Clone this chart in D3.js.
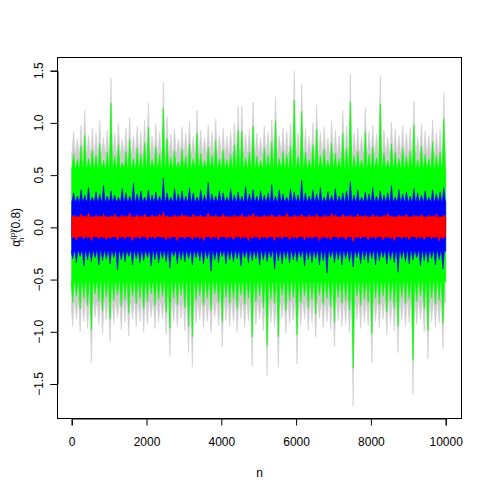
<!DOCTYPE html>
<html>
<head>
<meta charset="utf-8">
<script src="https://cdn.jsdelivr.net/npm/d3@7"></script>
<style>
  body { margin: 0; background: #fff; }
  text { font-family: "Liberation Sans", Arial, sans-serif; }
</style>
</head>
<body>
<script>
// per-bin (100 obs each) upper and lower extremes
var greyHi = [0.92,0.85,0.98,1.12,0.88,0.95,0.90,1.02,0.86,0.93,
  1.43,0.90,1.00,0.84,0.95,1.05,0.88,0.97,0.92,1.03,
  1.19,0.87,0.99,0.91,1.39,1.06,0.89,0.94,0.85,0.96,
  0.90,1.01,0.87,1.12,0.93,0.86,0.98,0.91,1.04,0.88,
  0.95,0.87,0.92,1.00,1.16,1.16,0.89,0.94,1.20,0.90,
  0.86,0.97,0.91,1.03,1.25,0.88,0.95,0.92,0.99,1.50,
  0.90,1.37,0.94,0.87,1.00,1.17,0.91,0.96,0.86,1.02,
  0.93,0.88,1.12,0.97,1.47,0.90,0.95,0.87,1.14,0.92,
  0.98,0.89,1.45,0.93,0.86,1.01,0.94,0.88,0.97,0.90,
  0.95,1.21,0.87,0.99,0.92,0.88,1.03,0.91,0.94,1.29];
var greyLo = [-0.95,-0.88,-1.00,-0.90,-0.97,-1.30,-0.86,-0.93,-1.02,-0.89,
  -1.10,-0.92,-0.87,-0.98,-0.91,-1.04,-0.88,-0.95,-0.90,-1.00,
  -0.93,-0.86,-0.97,-0.91,-0.88,-1.03,-1.23,-0.90,-0.96,-0.87,
  -0.99,-1.20,-1.34,-0.92,-0.88,-0.97,-0.90,-1.01,-0.86,-0.94,
  -1.14,-0.89,-0.95,-0.91,-1.00,-0.87,-0.96,-0.90,-1.33,-0.93,
  -0.88,-0.99,-1.42,-0.91,-0.95,-1.34,-0.87,-1.02,-0.92,-0.89,
  -1.31,-0.94,-0.88,-0.99,-0.91,-1.05,-0.87,-0.96,-0.90,-0.98,
  -1.14,-0.89,-0.95,-0.92,-1.01,-1.71,-0.88,-0.97,-0.91,-0.94,
  -1.30,-0.90,-0.96,-0.88,-1.03,-0.92,-0.99,-1.20,-0.89,-0.95,
  -0.91,-1.60,-0.93,-0.88,-1.00,-1.26,-0.90,-0.96,-0.92,-1.17];
var greenHi = [0.70,0.65,0.78,0.88,0.66,0.74,0.69,0.80,0.64,0.72,
  1.19,0.68,0.79,0.62,0.73,0.84,0.66,0.76,0.70,0.81,
  0.96,0.65,0.77,0.70,1.14,0.85,0.67,0.73,0.63,0.75,
  0.68,0.80,0.66,0.90,0.71,0.64,0.77,0.69,0.83,0.66,
  0.74,0.65,0.70,0.79,0.93,0.92,0.67,0.72,0.97,0.68,
  0.64,0.76,0.69,0.82,1.02,0.66,0.73,0.70,0.78,1.22,
  0.68,1.11,0.72,0.65,0.79,0.94,0.69,0.75,0.64,0.81,
  0.71,0.66,0.90,0.76,1.20,0.68,0.73,0.65,0.92,0.70,
  0.77,0.67,1.18,0.71,0.64,0.80,0.72,0.66,0.76,0.68,
  0.73,0.98,0.65,0.78,0.70,0.66,0.82,0.69,0.72,1.04];
var greenLo = [-0.72,-0.66,-0.78,-0.68,-0.75,-0.98,-0.64,-0.71,-0.80,-0.67,
  -0.88,-0.70,-0.65,-0.76,-0.69,-0.82,-0.66,-0.73,-0.68,-0.78,
  -0.71,-0.64,-0.75,-0.69,-0.66,-0.81,-0.97,-0.68,-0.74,-0.65,
  -0.77,-0.95,-1.05,-0.70,-0.66,-0.75,-0.68,-0.79,-0.64,-0.72,
  -0.90,-0.67,-0.73,-0.69,-0.78,-0.65,-0.74,-0.68,-1.05,-0.71,
  -0.66,-0.77,-1.13,-0.69,-0.73,-1.05,-0.65,-0.80,-0.70,-0.67,
  -1.03,-0.72,-0.66,-0.77,-0.69,-0.83,-0.65,-0.74,-0.68,-0.76,
  -0.91,-0.67,-0.73,-0.70,-0.79,-1.35,-0.66,-0.75,-0.69,-0.72,
  -1.02,-0.68,-0.74,-0.66,-0.81,-0.70,-0.77,-0.95,-0.67,-0.73,
  -0.69,-1.27,-0.71,-0.66,-0.78,-0.99,-0.68,-0.74,-0.70,-0.92];
var blueHi = [0.33,0.30,0.36,0.31,0.38,0.29,0.34,0.32,0.40,0.30,
  0.35,0.31,0.29,0.37,0.33,0.30,0.42,0.32,0.35,0.29,
  0.36,0.31,0.34,0.30,0.47,0.33,0.29,0.37,0.32,0.35,
  0.30,0.38,0.33,0.29,0.36,0.31,0.43,0.32,0.30,0.35,
  0.33,0.29,0.37,0.31,0.34,0.30,0.39,0.32,0.36,0.30,
  0.35,0.31,0.33,0.41,0.30,0.36,0.32,0.29,0.37,0.34,
  0.31,0.45,0.33,0.30,0.36,0.32,0.38,0.29,0.34,0.31,
  0.37,0.30,0.33,0.35,0.44,0.31,0.36,0.29,0.34,0.32,
  0.38,0.30,0.35,0.31,0.33,0.40,0.29,0.36,0.32,0.34,
  0.30,0.37,0.33,0.31,0.35,0.29,0.36,0.32,0.34,0.38];
var blueLo = [-0.30,-0.34,-0.28,-0.37,-0.31,-0.33,-0.29,-0.36,-0.32,-0.30,
  -0.35,-0.29,-0.41,-0.31,-0.33,-0.28,-0.36,-0.30,-0.34,-0.32,
  -0.29,-0.37,-0.31,-0.34,-0.30,-0.33,-0.39,-0.28,-0.35,-0.31,
  -0.33,-0.30,-0.36,-0.29,-0.32,-0.35,-0.30,-0.42,-0.31,-0.34,
  -0.28,-0.35,-0.31,-0.33,-0.30,-0.37,-0.29,-0.34,-0.32,-0.30,
  -0.36,-0.31,-0.33,-0.29,-0.40,-0.32,-0.35,-0.30,-0.34,-0.31,
  -0.33,-0.29,-0.37,-0.31,-0.34,-0.30,-0.36,-0.32,-0.44,-0.29,
  -0.34,-0.31,-0.36,-0.30,-0.33,-0.38,-0.29,-0.35,-0.31,-0.34,
  -0.30,-0.36,-0.32,-0.29,-0.35,-0.31,-0.34,-0.43,-0.30,-0.33,
  -0.35,-0.31,-0.29,-0.37,-0.32,-0.34,-0.30,-0.36,-0.31,-0.40];
var redHi = [0.12,0.10,0.13,0.11,0.14,0.10,0.12,0.11,0.13,0.10,
  0.11,0.13,0.10,0.12,0.11,0.14,0.10,0.12,0.11,0.13,
  0.10,0.12,0.11,0.13,0.15,0.11,0.10,0.12,0.11,0.13,
  0.12,0.10,0.13,0.11,0.12,0.10,0.14,0.11,0.12,0.10,
  0.13,0.11,0.10,0.12,0.11,0.13,0.10,0.12,0.14,0.11,
  0.10,0.12,0.11,0.13,0.10,0.12,0.11,0.14,0.10,0.12,
  0.11,0.13,0.10,0.12,0.11,0.13,0.10,0.12,0.11,0.14,
  0.12,0.10,0.13,0.11,0.12,0.10,0.13,0.11,0.12,0.10,
  0.13,0.11,0.10,0.12,0.14,0.11,0.10,0.12,0.11,0.13,
  0.10,0.12,0.11,0.13,0.10,0.12,0.11,0.13,0.10,0.12];
var redLo = [-0.10,-0.12,-0.09,-0.11,-0.10,-0.13,-0.09,-0.11,-0.10,-0.12,
  -0.11,-0.09,-0.12,-0.10,-0.11,-0.09,-0.13,-0.10,-0.11,-0.09,
  -0.12,-0.10,-0.11,-0.09,-0.10,-0.12,-0.11,-0.09,-0.13,-0.10,
  -0.11,-0.09,-0.12,-0.10,-0.11,-0.13,-0.09,-0.11,-0.10,-0.12,
  -0.09,-0.11,-0.10,-0.12,-0.09,-0.11,-0.10,-0.13,-0.11,-0.09,
  -0.12,-0.10,-0.11,-0.09,-0.13,-0.10,-0.11,-0.09,-0.12,-0.10,
  -0.11,-0.09,-0.12,-0.10,-0.11,-0.09,-0.13,-0.10,-0.11,-0.12,
  -0.09,-0.11,-0.10,-0.12,-0.09,-0.14,-0.10,-0.11,-0.09,-0.12,
  -0.10,-0.11,-0.09,-0.12,-0.10,-0.11,-0.13,-0.09,-0.11,-0.10,
  -0.12,-0.09,-0.11,-0.10,-0.12,-0.09,-0.11,-0.10,-0.13,-0.11];
// level up to which each trace fills solidly (upper, lower)
var greyCore = [0.72, -0.72];
var greenCore = [0.57, -0.52];
var blueCore = [0.25, -0.23];
var redCore = [0.10, -0.09];

var xTicks = [0, 2000, 4000, 6000, 8000, 10000];
var yTicks = [-1.5, -1, -0.5, 0, 0.5, 1, 1.5];
var binSize = 100;
var nMax = 10000;

var width = 491, height = 491;
var box = {left: 57.5, right: 461.5, top: 57.5, bottom: 418.5};

var x = d3.scaleLinear().domain([0, 10000]).range([71.7, 445.7]);
var y = d3.scaleLinear().domain([-1.5, 1.5]).range([384, 70.7]);

var svg = d3.select('body').append('svg')
            .attr('width', width)
            .attr('height', height);

// outline of a trace: solid core with one narrow spike per bin on each side
function outline(hi, lo, core) {
  var half = 40, pts = [[1, core[0]]];
  hi.forEach(function(h, i) {
    var c = i * binSize + 50;
    pts.push([c - half, core[0]], [c, h], [c + half, core[0]]);
  });
  pts.push([nMax, core[0]], [nMax, core[1]]);
  for (var i = lo.length - 1; i >= 0; i--) {
    var c = i * binSize + 25;
    pts.push([c + half, core[1]], [c, lo[i]], [c - half, core[1]]);
  }
  pts.push([1, core[1]]);
  return pts;
}
var line = d3.line()
             .x(function(d){ return x(d[0]); })
             .y(function(d){ return y(d[1]); });

var series = [
  {hi: greyHi, lo: greyLo, core: greyCore, col: '#cccccc'},
  {hi: greenHi, lo: greenLo, core: greenCore, col: '#00ff00'},
  {hi: blueHi, lo: blueLo, core: blueCore, col: '#0000ff'},
  {hi: redHi, lo: redLo, core: redCore, col: '#ff0000'}
];
series.forEach(function(s) {
  svg.append('path')
     .attr('d', line(outline(s.hi, s.lo, s.core)) + 'Z')
     .attr('fill', s.col)
     .attr('stroke', s.col)
     .attr('stroke-width', 0.6)
     .attr('stroke-linejoin', 'miter');
});

// frame
svg.append('rect')
   .attr('x', box.left).attr('y', box.top)
   .attr('width', box.right - box.left)
   .attr('height', box.bottom - box.top)
   .attr('fill', 'none').attr('stroke', '#000').attr('stroke-width', 1);

var xAxis = d3.axisBottom(x).tickValues(xTicks).tickSizeOuter(0).tickSize(7).tickPadding(12)
              .tickFormat(d3.format('d'));
svg.append('g').attr('class', 'x-axis')
   .attr('transform', 'translate(0,' + box.bottom + ')')
   .call(xAxis)
   .call(function(g) {
     g.select('.domain').attr('stroke', '#000');
     g.selectAll('.tick line').attr('stroke', '#000');
     g.selectAll('.tick text').attr('font-size', 12).attr('fill', '#000')
      .attr('font-family', '"Liberation Sans", Arial, sans-serif');
   });

var yAxis = d3.axisLeft(y).tickValues(yTicks).tickSizeOuter(0).tickSize(7)
              .tickFormat(d3.format('.1f'));
svg.append('g').attr('class', 'y-axis')
   .attr('transform', 'translate(' + box.left + ',0)')
   .call(yAxis)
   .call(function(g) {
     g.select('.domain').attr('stroke', '#000');
     g.selectAll('.tick line').attr('stroke', '#000');
     g.selectAll('.tick text').remove();
   });

// R draws y tick labels parallel to the axis
svg.append('g').selectAll('text')
   .data(yTicks).enter().append('text')
   .attr('transform', function(d){ return 'translate(43,' + y(d) + ') rotate(-90)'; })
   .attr('text-anchor', 'middle')
   .attr('font-size', 12)
   .text(function(d){ return d3.format('.1f')(d).replace('-', '\u2212'); });

svg.append('text')
   .attr('x', (box.left + box.right) / 2).attr('y', 477)
   .attr('text-anchor', 'middle').attr('font-size', 12)
   .text('n');

var ylab = svg.append('text')
   .attr('transform', 'translate(20,' + y(0) + ') rotate(-90)')
   .attr('text-anchor', 'middle').attr('font-size', 12);
ylab.append('tspan').text('\u03b1');
ylab.append('tspan').attr('font-size', 8).attr('dy', -5).text('(p)');
ylab.append('tspan').attr('font-size', 8).attr('dx', -12).attr('dy', 9).text('n');
ylab.append('tspan').attr('dx', 5).attr('dy', -4).text('(0.8)');
</script>
</body>
</html>
